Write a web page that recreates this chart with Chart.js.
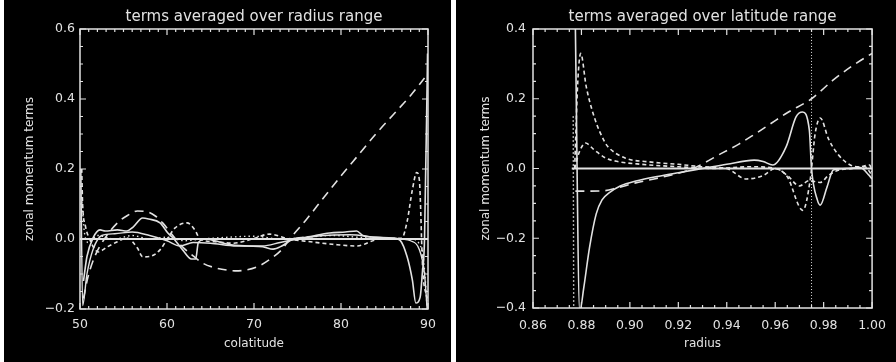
<!DOCTYPE html>
<html>
<head>
<meta charset="utf-8">
<script src="https://cdn.jsdelivr.net/npm/chart.js@4.4.0/dist/chart.umd.min.js"></script>
<style>
  html, body { margin: 0; padding: 0; background: #fff; }
  body { width: 896px; height: 362px; position: relative; overflow: hidden; }
  .panel { position: absolute; top: 0; height: 362px; background: #000; }
  #leftBox { left: 4px; width: 447px; }
  #rightBox { left: 456px; width: 440px; }
</style>
</head>
<body>
<div class="panel" id="leftBox"><canvas id="leftChart"></canvas></div>
<div class="panel" id="rightBox"><canvas id="rightChart"></canvas></div>
<script>
// left panel: terms averaged over radius range (x = colatitude)
const colatTicks = [50, 60, 70, 80, 90];
const colatValTicks = [-0.2, 0.0, 0.2, 0.4, 0.6];

const colatZeroX = [50, 90];
const colatZeroY = [0, 0];

const colatLongX = [50.4, 50.9, 51.7, 52.8, 54.3, 55.5, 56.6, 57.7, 58.7, 59.5, 60.6, 61.8, 63.0, 64.1, 65.5, 66.9, 67.8, 69.0, 70.5, 72.0, 73.2, 74.1, 76.0, 78.0, 80.0, 82.0, 84.0, 86.0, 88.0, 89.6];
const colatLongY = [-0.17, -0.11, -0.05, 0.0, 0.046, 0.068, 0.08, 0.078, 0.065, 0.046, 0.012, -0.023, -0.048, -0.069, -0.082, -0.089, -0.091, -0.089, -0.078, -0.055, -0.03, 0.0, 0.055, 0.118, 0.18, 0.24, 0.30, 0.355, 0.41, 0.46];

const colatShortX = [50.2, 50.3, 50.6, 51.1, 52.1, 53.1, 54.3, 55.4, 56.6, 57.2, 58.0, 59.2, 60.1, 60.9, 62.3, 63.2, 63.8, 65.5, 67.6, 69.8, 71.8, 74.0, 76.5, 79.0, 81.8, 84.5, 87.0, 87.6, 88.2, 88.7, 89.0, 89.4, 89.9];
const colatShortY = [0.2, 0.1, 0.04, 0.0, -0.037, -0.023, -0.008, 0.003, -0.026, -0.051, -0.05, -0.031, 0.003, 0.031, 0.046, 0.026, 0.0, -0.008, -0.012, 0.0, 0.014, 0.0, -0.008, -0.015, -0.02, 0.0, 0.003, 0.05, 0.14, 0.19, 0.17, -0.09, -0.17];

const colatSolidX = [50.4, 50.8, 51.5, 52.3, 52.9, 54.3, 55.4, 56.1, 57.2, 57.9, 59.2, 60.1, 60.7, 61.8, 62.8, 63.3, 63.6, 64.5, 65.5, 67.0, 69.2, 71.0, 72.2, 73.2, 74.5, 76.0, 78.7, 80.5, 81.8, 82.5, 84.0, 86.0, 86.8, 87.6, 88.2, 88.6, 89.1, 89.35, 89.6, 89.95];
const colatSolidY = [-0.12, -0.05, 0.003, 0.026, 0.023, 0.026, 0.023, 0.034, 0.06, 0.057, 0.046, 0.017, 0.003, -0.031, -0.057, -0.057, -0.01, 0.0, -0.005, -0.015, -0.02, -0.022, -0.029, -0.02, 0.0, 0.005, 0.017, 0.02, 0.023, 0.01, 0.005, 0.003, -0.004, -0.051, -0.117, -0.183, -0.166, -0.097, 0.0, 0.53];

const colatSolid2X = [50.1, 50.3, 50.8, 51.5, 52.5, 54.0, 56.0, 58.0, 60.0, 61.5, 63.0, 65.0, 68.0, 71.0, 73.0, 75.0, 78.0, 81.0, 84.0, 87.0, 88.0, 89.0, 89.6, 89.9];
const colatSolid2Y = [0.2, -0.19, -0.1, -0.03, 0.01, 0.015, 0.02, 0.01, -0.005, -0.02, -0.01, -0.012, -0.02, -0.02, -0.01, 0.0, 0.01, 0.012, 0.005, 0.0, -0.005, -0.03, -0.1, -0.2];

const colatDotX = [50.2, 50.5, 51.0, 52.0, 54.0, 56.0, 58.0, 60.0, 62.0, 64.0, 67.0, 70.0, 73.0, 76.0, 79.0, 82.0, 85.0, 88.0, 89.3, 89.7, 89.9];
const colatDotY = [0.12, 0.02, -0.01, 0.01, 0.0, 0.01, 0.0, 0.005, -0.005, 0.0, 0.005, 0.008, 0.0, 0.005, 0.01, 0.005, 0.0, 0.0, -0.03, -0.12, -0.2];

// right panel: terms averaged over latitude range (x = radius)
const radTicks = [0.86, 0.88, 0.90, 0.92, 0.94, 0.96, 0.98, 1.00];
const radValTicks = [-0.4, -0.2, 0.0, 0.2, 0.4];

const radZeroX = [0.876, 1.0];
const radZeroY = [0, 0];

const radLongX = [0.8775, 0.889, 0.895, 0.902, 0.91, 0.918, 0.926, 0.938, 0.945, 0.951, 0.958, 0.965, 0.975, 0.984, 0.992, 1.0];
const radLongY = [-0.065, -0.064, -0.055, -0.042, -0.03, -0.017, 0.0, 0.044, 0.07, 0.096, 0.128, 0.16, 0.2, 0.254, 0.295, 0.33];

const radShortAX = [0.8772, 0.8785, 0.8797, 0.882, 0.8857, 0.8897, 0.891, 0.898, 0.908, 0.92, 0.93, 0.94, 0.948, 0.955, 0.96, 0.965, 0.970, 0.974, 0.9785, 0.982, 0.986, 0.992, 0.997, 1.0];
const radShortAY = [0.0, 0.25, 0.33, 0.234, 0.139, 0.075, 0.062, 0.03, 0.019, 0.012, 0.005, 0.0, -0.03, -0.02, 0.0, -0.02, -0.05, -0.035, -0.04, -0.02, -0.005, 0.0, 0.005, -0.02];

const radShortBX = [0.8772, 0.879, 0.8817, 0.885, 0.89, 0.895, 0.905, 0.92, 0.935, 0.95, 0.96, 0.965, 0.9714, 0.9745, 0.9765, 0.9786, 0.982, 0.986, 0.991, 0.995, 0.999, 1.0];
const radShortBY = [0.0, 0.045, 0.073, 0.055, 0.03, 0.02, 0.012, 0.005, 0.0, 0.005, 0.0, -0.024, -0.12, -0.03, 0.1, 0.145, 0.085, 0.04, 0.01, 0.005, 0.01, -0.01];

const radSolidX = [0.8774, 0.8793, 0.881, 0.8833, 0.8861, 0.8885, 0.8914, 0.896, 0.903, 0.912, 0.92, 0.93, 0.94, 0.9513, 0.955, 0.959, 0.9645, 0.9686, 0.9713, 0.9741, 0.975, 0.9774, 0.9786, 0.9814, 0.984, 0.99, 0.995, 0.9987, 1.0];
const radSolidY = [0.45, -0.41, -0.34, -0.228, -0.13, -0.09, -0.07, -0.05, -0.035, -0.022, -0.012, 0.0, 0.012, 0.024, 0.02, 0.01, 0.062, 0.148, 0.162, 0.11, 0.0, -0.09, -0.105, -0.053, -0.004, 0.0, 0.003, -0.019, -0.03];

const radMarkX = [0.975, 0.975];
const radMarkY = [-0.4, 0.4];
const radEdgeX = [0.8766, 0.8768];
const radEdgeY = [0.15, -0.4];

const ink = '#e2e2e2';
Chart.defaults.font.family = "'DejaVu Sans', sans-serif";
Chart.defaults.color = ink;

function pts(xs, ys) {
  return xs.map((x, i) => ({ x: x, y: ys[i] }));
}

function line(xs, ys, dash, width) {
  return {
    data: pts(xs, ys),
    borderColor: ink,
    borderWidth: width || 1.6,
    borderDash: dash || [],
    pointRadius: 0,
    cubicInterpolationMode: 'monotone',
    fill: false
  };
}

// frame with inward major/minor ticks on all four sides
const idlFrame = {
  id: 'idlFrame',
  afterDatasetsDraw(chart, args, opts) {
    const { ctx, chartArea: a, scales: { x, y } } = chart;
    ctx.save();
    ctx.strokeStyle = ink;
    ctx.lineWidth = 1.5;
    ctx.strokeRect(a.left, a.top, a.right - a.left, a.bottom - a.top);
    ctx.lineWidth = 1.2;
    ctx.beginPath();
    const nx = Math.round((x.max - x.min) / opts.xMinor);
    for (let i = 0; i <= nx; i++) {
      const px = x.getPixelForValue(x.min + i * opts.xMinor);
      const len = i % opts.xEvery === 0 ? 6 : 3;
      ctx.moveTo(px, a.bottom); ctx.lineTo(px, a.bottom - len);
      ctx.moveTo(px, a.top); ctx.lineTo(px, a.top + len);
    }
    const ny = Math.round((y.max - y.min) / opts.yMinor);
    for (let i = 0; i <= ny; i++) {
      const py = y.getPixelForValue(y.min + i * opts.yMinor);
      const len = i % opts.yEvery === 0 ? 6 : 3;
      ctx.moveTo(a.left, py); ctx.lineTo(a.left + len, py);
      ctx.moveTo(a.right, py); ctx.lineTo(a.right - len, py);
    }
    ctx.stroke();
    ctx.restore();
  }
};

function makeChart(id, p) {
  new Chart(document.getElementById(id), {
    type: 'line',
    data: { datasets: p.datasets },
    options: {
      responsive: true,
      maintainAspectRatio: false,
      animation: false,
      layout: { padding: { left: 0, right: p.padRight, top: 0, bottom: 0 } },
      plugins: {
        legend: { display: false },
        tooltip: { enabled: false },
        title: {
          display: true, text: p.title, color: ink, fullSize: false,
          font: { size: 15, weight: 'normal' }, padding: { top: 8.5, bottom: 2.5 }
        },
        idlFrame: p.frame
      },
      scales: {
        x: {
          type: 'linear', min: p.xTicks[0], max: p.xTicks[p.xTicks.length - 1],
          grid: { display: false, drawTicks: false }, border: { display: false },
          afterBuildTicks: s => { s.ticks = p.xTicks.map(v => ({ value: v })); },
          afterFit: s => { s.height = p.xHeight; },
          ticks: {
            padding: p.xPad, maxRotation: 0, autoSkip: false,
            font: { size: 12.5 },
            callback: v => v.toFixed(p.xDigits)
          },
          title: { display: true, text: p.xTitle, font: { size: 12 }, padding: { top: 0, bottom: 10.5 } }
        },
        y: {
          min: p.yTicks[0], max: p.yTicks[p.yTicks.length - 1],
          grid: { display: false, drawTicks: false }, border: { display: false },
          afterBuildTicks: s => { s.ticks = p.yTicks.map(v => ({ value: v })); },
          afterFit: s => { s.width = p.yWidth; },
          ticks: {
            padding: p.yPad, autoSkip: false,
            font: { size: 12.5 },
            callback: v => v.toFixed(1).replace('-', '\u2212')
          },
          title: { display: true, text: 'zonal momentum terms', font: { size: 12 }, padding: { top: p.yTitlePad, bottom: 0 } }
        }
      }
    },
    plugins: [idlFrame]
  });
}

makeChart('leftChart', {
  title: 'terms averaged over radius range',
  xTitle: 'colatitude',
  xTicks: colatTicks, yTicks: colatValTicks, xDigits: 0,
  padRight: 23, yWidth: 76, xHeight: 53, xPad: 8, yPad: 5, yTitlePad: 19,
  frame: { xMinor: 1, xEvery: 10, yMinor: 0.05, yEvery: 4 },
  datasets: [
    line(colatZeroX, colatZeroY, [], 2.2),
    line(colatDotX, colatDotY, [1.5, 3], 1.4),
    line(colatSolid2X, colatSolid2Y, [], 1.4),
    line(colatSolidX, colatSolidY, [], 1.6),
    line(colatShortX, colatShortY, [4, 3], 1.6),
    line(colatLongX, colatLongY, [9, 6], 1.6)
  ]
});

makeChart('rightChart', {
  title: 'terms averaged over latitude range',
  xTitle: 'radius',
  xTicks: radTicks, yTicks: radValTicks, xDigits: 2,
  padRight: 15, yWidth: 77, xHeight: 54, xPad: 10, yPad: 7, yTitlePad: 23,
  frame: { xMinor: 0.005, xEvery: 4, yMinor: 0.05, yEvery: 4 },
  datasets: [
    line(radZeroX, radZeroY, [], 2.2),
    line(radMarkX, radMarkY, [1, 2], 1),
    line(radEdgeX, radEdgeY, [1.5, 2.5], 1.4),
    line(radSolidX, radSolidY, [], 1.6),
    line(radShortAX, radShortAY, [4, 3], 1.6),
    line(radShortBX, radShortBY, [4, 3], 1.6),
    line(radLongX, radLongY, [9, 6], 1.6)
  ]
});
</script>
</body>
</html>
